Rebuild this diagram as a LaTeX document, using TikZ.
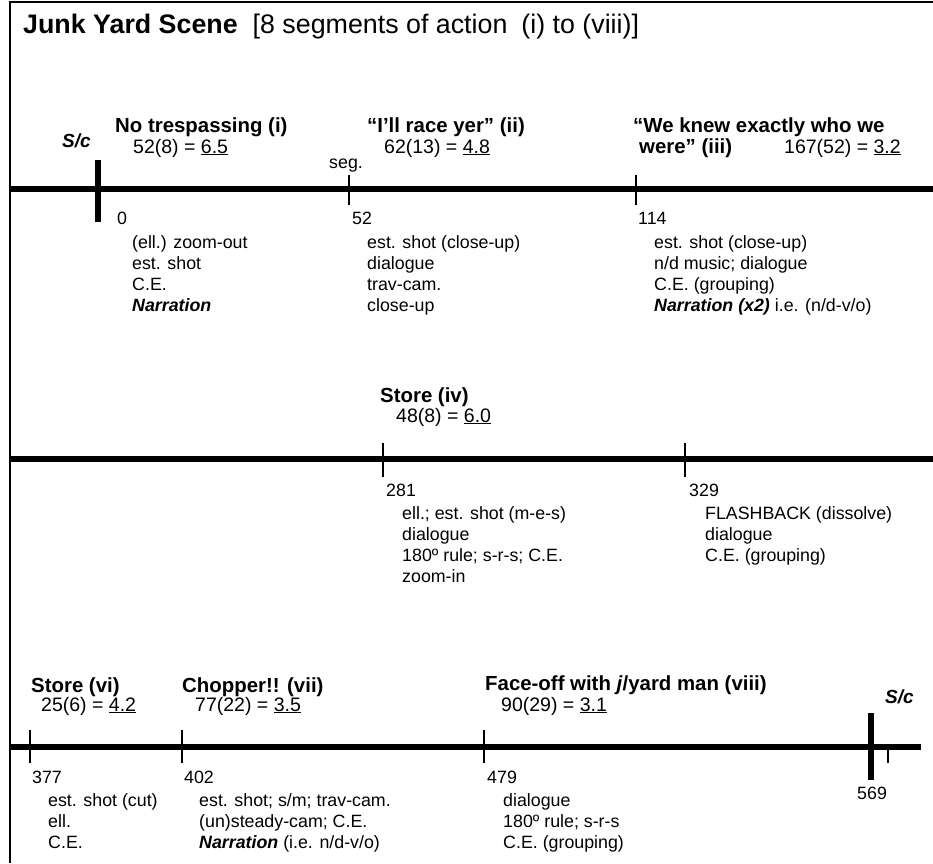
\documentclass[tikz,border=0pt]{standalone}
\usepackage{fontspec}
\setmainfont{Liberation Sans}
\begin{document}
\begin{tikzpicture}[x=1pt,y=-1pt,
  tl/.style={line width=6pt},
  thicktick/.style={line width=5.5pt},
  thintick/.style={line width=1.2pt},
  frame/.style={line width=2pt},
  ttl/.style={anchor=base west, inner sep=0pt, font=\fontsize{26.8}{30}\selectfont},
  lab/.style={anchor=base west, inner sep=0pt, font=\fontsize{20.4}{24}\selectfont\bfseries},
  rat/.style={anchor=base west, inner sep=0pt, font=\fontsize{19.5}{23}\selectfont},
  body/.style={anchor=base west, inner sep=0pt, font=\fontsize{17.8}{21}\selectfont},
  sc/.style={anchor=base west, inner sep=0pt, font=\fontsize{19}{23}\selectfont\bfseries\itshape},
]
\useasboundingbox (0,0) rectangle (933,863);
% frame
\coordinate (fbl) at (10,863);
\coordinate (ftl) at (10,2);
\coordinate (ftr) at (933,2);
\draw[frame] (fbl) -- (ftl) -- (ftr);
% title
\node[ttl] (title) at (23,33) {\textbf{Junk Yard Scene}\hspace*{15pt}[8 segments of action\hspace*{14pt}(i) to (viii)]};

% ---------- timeline 1 ----------
\coordinate (t1a) at (11,189);
\coordinate (t1b) at (933,189);
\draw[tl] (t1a) -- (t1b);
\draw[thicktick] (98,160) -- (98,222);
\draw[thintick] (349,175) -- (349,205);
\draw[thintick] (636,175) -- (636,205);
\node[sc] (sc1) at (62,147) {S/c};
\node[lab] (l1) at (115,132) {No trespassing (i)};
\node[rat] (r1) at (133,153) {52(8) = \underline{6.5}};
\node[body] (seg) at (329,168) {seg.};
\node[lab] (l2) at (367,132) {“I’ll race yer” (ii)};
\node[rat] (r2) at (384,153) {62(13) = \underline{4.8}};
\node[lab] (l3) at (633,132) {“We knew exactly who we};
\node[lab] (l3b) at (639,153) {were” (iii)};
\node[rat] (r3) at (784,153) {167(52) = \underline{3.2}};

\node[body] (n0) at (117,224) {0};
\node[body] (a1) at (132,248) {(ell.) zoom-out};
\node[body] (a2) at (132,269) {est. shot};
\node[body] (a3) at (132,290) {C.E.};
\node[body] (a4) at (132,311) {\textbf{\textit{Narration}}};

\node[body] (n52) at (352,224) {52};
\node[body] (b1) at (367,248) {est. shot (close-up)};
\node[body] (b2) at (367,269) {dialogue};
\node[body] (b3) at (367,290) {trav-cam.};
\node[body] (b4) at (367,311) {close-up};

\node[body] (n114) at (638,224) {114};
\node[body] (c1) at (654,248) {est. shot (close-up)};
\node[body] (c2) at (654,269) {n/d music; dialogue};
\node[body] (c3) at (654,290) {C.E. (grouping)};
\node[body] (c4) at (654,311) {\textbf{\textit{Narration (x2)}} i.e. (n/d-v/o)};

% ---------- timeline 2 ----------
\coordinate (t2a) at (11,459);
\coordinate (t2b) at (933,459);
\draw[tl] (t2a) -- (t2b);
\draw[thintick] (383,443) -- (383,477);
\draw[thintick] (685,443) -- (685,477);
\node[lab] (l4) at (380,402) {Store (iv)};
\node[rat] (r4) at (396,422) {48(8) = \underline{6.0}};

\node[body] (n281) at (386,496) {281};
\node[body] (d1) at (402,519) {ell.; est. shot (m-e-s)};
\node[body] (d2) at (402,540) {dialogue};
\node[body] (d3) at (402,561) {180º rule; s-r-s; C.E.};
\node[body] (d4) at (402,582) {zoom-in};

\node[body] (n329) at (689,496) {329};
\node[body] (e1) at (705,519) {FLASHBACK (dissolve)};
\node[body] (e2) at (705,540) {dialogue};
\node[body] (e3) at (705,561) {C.E. (grouping)};

% ---------- timeline 3 ----------
\coordinate (t3a) at (11,747);
\coordinate (t3b) at (921,747);
\draw[tl] (t3a) -- (t3b);
\draw[thintick] (30,730) -- (30,763);
\draw[thintick] (182,730) -- (182,763);
\draw[thintick] (484,730) -- (484,763);
\draw[thicktick] (871,713) -- (871,780);
\draw[thintick] (888,749) -- (888,763);

\node[lab] (l6) at (31,692) {Store (vi)};
\node[rat] (r6) at (41,711) {25(6) = \underline{4.2}};
\node[lab] (l7) at (182,692) {Chopper!! (vii)};
\node[rat] (r7) at (195,711) {77(22) = \underline{3.5}};
\node[lab] (l8) at (485,690) {Face-off with \textit{j}/yard man (viii)};
\node[rat] (r8) at (501,711) {90(29) = \underline{3.1}};
\node[sc] (sc2) at (885,703) {S/c};

\node[body] (n377) at (32,783) {377};
\node[body] (f1) at (48,806) {est. shot (cut)};
\node[body] (f2) at (48,827) {ell.};
\node[body] (f3) at (48,848) {C.E.};

\node[body] (n402) at (184,783) {402};
\node[body] (g1) at (199,806) {est. shot; s/m; trav-cam.};
\node[body] (g2) at (199,827) {(un)steady-cam; C.E.};
\node[body] (g3) at (199,848) {\textbf{\textit{Narration}} (i.e. n/d-v/o)};

\node[body] (n479) at (487,783) {479};
\node[body] (h1) at (503,806) {dialogue};
\node[body] (h2) at (503,827) {180º rule; s-r-s};
\node[body] (h3) at (503,848) {C.E. (grouping)};

\node[body] (n569) at (857,799) {569};
\end{tikzpicture}
\end{document}
